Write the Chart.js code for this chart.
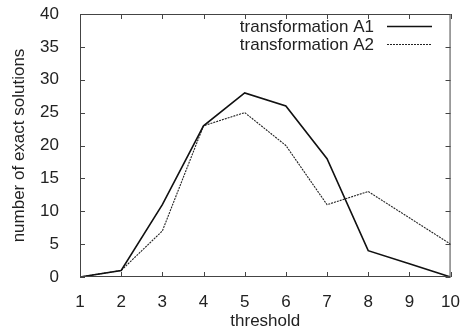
<!DOCTYPE html>
<html>
<head>
<meta charset="utf-8">
<script src="https://cdn.jsdelivr.net/npm/chart.js@4/dist/chart.umd.min.js"></script>
<style>
  html, body { margin: 0; padding: 0; background: #fff; }
  #wrap { width: 467px; height: 334px; }
</style>
</head>
<body>
<div id="wrap"><canvas id="chart"></canvas></div>
<script>
const thresholds = [1, 2, 3, 4, 5, 6, 7, 8, 9, 10];
const solutionsA1 = [0, 1, 11, 23, 28, 26, 18, 4, 2, 0];
const solutionsA2 = [0, 1, 7, 23, 25, 20, 11, 13, 9, 5];

const ink = '#222';
const font = { family: '"Liberation Sans", Arial, sans-serif', size: 17 };

const toPoints = vals => vals.map((v, i) => ({ x: thresholds[i], y: v }));

// gnuplot-style frame: box around the plot with inward ticks on every side
const framePlugin = {
  id: 'frame',
  afterDatasetsDraw(chart) {
    const { ctx, chartArea: a, scales: { x, y } } = chart;
    ctx.save();
    ctx.strokeStyle = '#444';
    ctx.lineWidth = 1;
    ctx.strokeRect(a.left + 0.5, a.top + 0.5, a.right - a.left - 1, a.bottom - a.top - 1);
    ctx.beginPath();
    x.ticks.forEach(t => {
      const px = Math.round(x.getPixelForValue(t.value)) + 0.5;
      ctx.moveTo(px, a.bottom); ctx.lineTo(px, a.bottom - 5);
      ctx.moveTo(px, a.top); ctx.lineTo(px, a.top + 5);
    });
    y.ticks.forEach(t => {
      const py = Math.round(y.getPixelForValue(t.value)) + 0.5;
      ctx.moveTo(a.left, py); ctx.lineTo(a.left + 5, py);
      ctx.moveTo(a.right, py); ctx.lineTo(a.right - 5, py);
    });
    ctx.stroke();
    ctx.restore();
  }
};

// legend in the top right corner: label text, then a line sample
const keyPlugin = {
  id: 'key',
  afterDatasetsDraw(chart) {
    const { ctx } = chart;
    ctx.save();
    ctx.font = `${font.size}px ${font.family}`;
    ctx.fillStyle = ink;
    ctx.textAlign = 'right';
    ctx.textBaseline = 'middle';
    chart.data.datasets.forEach((ds, i) => {
      const cy = 27 + i * 18;
      ctx.fillText(ds.label, 374, cy);
      ctx.beginPath();
      ctx.strokeStyle = ds.borderColor;
      ctx.lineWidth = ds.borderWidth;
      ctx.setLineDash(ds.borderDash || []);
      ctx.moveTo(387, cy - 0.5);
      ctx.lineTo(432, cy - 0.5);
      ctx.stroke();
    });
    ctx.restore();
  }
};

new Chart(document.getElementById('chart'), {
  type: 'line',
  data: {
    datasets: [
      {
        label: 'transformation A1',
        data: toPoints(solutionsA1),
        borderColor: '#111',
        borderWidth: 1.6,
        pointRadius: 0,
        tension: 0
      },
      {
        label: 'transformation A2',
        data: toPoints(solutionsA2),
        borderColor: '#222',
        borderWidth: 1.1,
        borderDash: [2, 1],
        pointRadius: 0,
        tension: 0
      }
    ]
  },
  options: {
    responsive: true,
    maintainAspectRatio: false,
    animation: false,
    layout: { padding: { top: 14, right: 15, left: 0, bottom: 0 } },
    plugins: { legend: { display: false }, tooltip: { enabled: false } },
    scales: {
      x: {
        type: 'linear',
        min: 1,
        max: 10,
        grid: { display: false },
        border: { display: false },
        ticks: { stepSize: 1, color: ink, font, padding: 7, maxRotation: 0 },
        title: { display: true, text: 'threshold', color: ink, font, padding: { top: 0, bottom: 2 } },
        afterFit(scale) { scale.height = 57; }
      },
      y: {
        min: 0,
        max: 40,
        grid: { display: false },
        border: { display: false },
        ticks: { stepSize: 5, color: ink, font, padding: 13 },
        title: { display: true, text: 'number of exact solutions', color: ink, font, padding: { top: 9, bottom: 0 } },
        afterFit(scale) {
          scale.width = 80;
          // the tick padding would otherwise push the plot top down
          scale.paddingTop = 0;
          scale.paddingBottom = 0;
        }
      }
    }
  },
  plugins: [framePlugin, keyPlugin]
});
</script>
</body>
</html>
